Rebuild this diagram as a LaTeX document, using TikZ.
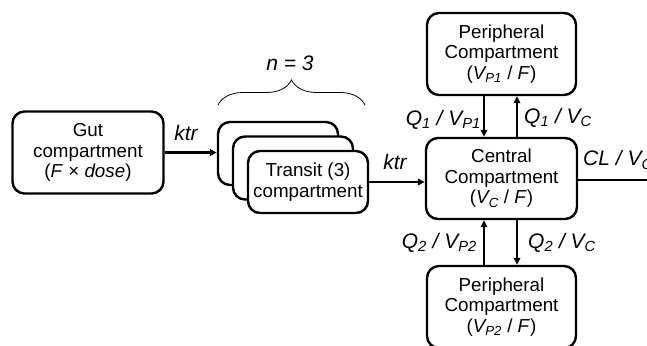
\documentclass[tikz,border=0pt]{standalone}
\usepackage{fontspec}
\setmainfont{Liberation Sans}
\usetikzlibrary{arrows.meta,decorations.pathreplacing,calc}
\begin{document}
\begin{tikzpicture}[x=1pt,y=-1pt,
  box/.style={draw,line width=2.4pt,rounded corners=12pt,fill=white,align=center,
    inner sep=0pt,font=\fontsize{18.8}{20.5}\selectfont},
  arr/.style={line width=2.1pt,-{Triangle[length=7pt,width=6.5pt]}},
  lbl/.style={font=\fontsize{21}{22}\selectfont\itshape,inner sep=0pt}]
\useasboundingbox (0,0) rectangle (647,345);
\clip (0,0) rectangle (647,345);
\node[box,minimum width=151pt,minimum height=82pt] (gut) at (88,152.5)
  {Gut\\compartment\\(\textit{F} × \textit{dose})};
\node[box,minimum width=120pt,minimum height=63pt] (back) at (278,153.5) {};
\node[box,minimum width=120pt,minimum height=63pt] (mid) at (293,168) {};
\node[box,minimum width=120pt,minimum height=62pt] (front) at (308,182)
  {Transit (3)\\compartment};
\node[box,minimum width=151pt,minimum height=81pt] (central) at (501.5,178.5)
  {Central\\Compartment\\(\textit{V\textsubscript{C}} / \textit{F})};
\node[box,minimum width=149pt,minimum height=82pt] (top) at (501.5,54)
  {Peripheral\\Compartment\\(\textit{V\textsubscript{P1}} / \textit{F})};
\node[box,minimum width=149pt,minimum height=82pt] (bot) at (501.5,307)
  {Peripheral\\Compartment\\(\textit{V\textsubscript{P2}} / \textit{F})};
\coordinate (xl) at (484,0);
\coordinate (xr) at (517,0);
\coordinate (out) at (665,180);
\draw[arr] (gut.east) -- (gut.east -| back.west);
\draw[arr] (front.east) -- (front.east -| central.west);
\draw[arr] (central.east |- out) -- (out);
\draw[arr] (xl |- top.south) -- (xl |- central.north);
\draw[arr] (xr |- central.north) -- (xr |- top.south);
\draw[arr] (xl |- bot.north) -- (xl |- central.south);
\draw[arr] (xr |- central.south) -- (xr |- bot.north);
\node[lbl] (k1) at (186,133) {ktr};
\node[lbl] (k2) at (395,162) {ktr};
\node[lbl,anchor=west] (cl) at (583,160) {CL / V\textsubscript{C}};
\node[lbl,anchor=east] (q1a) at (481,120) {Q\textsubscript{1} / V\textsubscript{P1}};
\node[lbl,anchor=west] (q1b) at (524,118) {Q\textsubscript{1} / V\textsubscript{C}};
\node[lbl,anchor=east] (q2a) at (477,243) {Q\textsubscript{2} / V\textsubscript{P2}};
\node[lbl,anchor=west] (q2b) at (528,243) {Q\textsubscript{2} / V\textsubscript{C}};
\coordinate (b1) at (218,105);
\coordinate (b2) at (365,105);
\draw[line width=0.8pt,decorate,decoration={brace,amplitude=25pt}] (b1) -- (b2);
\node[lbl] (n) at (290,63) {n = 3};
\end{tikzpicture}
\end{document}
